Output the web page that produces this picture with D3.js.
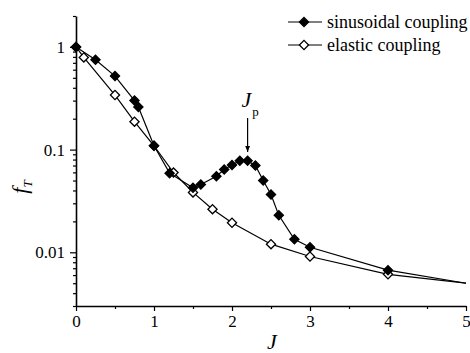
<!DOCTYPE html>
<html>
<head>
<meta charset="utf-8">
<script src="https://cdn.jsdelivr.net/npm/d3@7"></script>
<style>
  html, body { margin: 0; padding: 0; background: #fff; }
  svg { display: block; }
</style>
</head>
<body>
<svg id="chart" width="470" height="353"></svg>
<script>
// ---- data ----
const sinusoidalJ = [0, 0.25, 0.5, 0.75, 0.8, 1.0, 1.2, 1.5, 1.6, 1.8, 1.9, 2.0, 2.1, 2.2, 2.3, 2.4, 2.5, 2.6, 2.8, 3.0, 4.0, 5.0];
const sinusoidalF = [1.0, 0.75, 0.52, 0.30, 0.26, 0.109, 0.059, 0.0425, 0.0457, 0.055, 0.064, 0.071, 0.0777, 0.0777, 0.070, 0.050, 0.0366, 0.0229, 0.0134, 0.0112, 0.0067, 0.0050];
const elasticJ = [0, 0.1, 0.5, 0.75, 1.0, 1.25, 1.5, 1.75, 2.0, 2.5, 3.0, 4.0, 5.0];
const elasticF = [1.0, 0.79, 0.34, 0.187, 0.109, 0.0598, 0.0383, 0.0263, 0.0194, 0.0120, 0.0091, 0.0061, 0.0050];
const xTicks = [0, 1, 2, 3, 4, 5];
const xMinorTicks = [0.5, 1.5, 2.5, 3.5, 4.5];
const yTicks = [0.01, 0.1, 1];
const yTickLabels = ["0.01", "0.1", "1"];
const seriesNames = ["sinusoidal coupling", "elastic coupling"];
const peakLabel = { main: "J", sub: "p", at: 2.2 };

const SERIF = "Liberation Serif";

const svg = d3.select("#chart");
const x = d3.scaleLinear().domain([0, 5]).range([76, 466]);
const y = d3.scaleLog().domain([0.003, 2]).range([306, 16]);

// minor log ticks (2..9 of each decade)
const yMinor = [];
for (let e = -3; e <= 0; e++) {
  for (let m = 2; m <= 9; m++) {
    const v = m * Math.pow(10, e);
    if (v >= 0.003 && v <= 2) yMinor.push(v);
  }
}

// ---- axes ----
const gx = svg.append("g").attr("transform", `translate(0,${y.range()[0]})`);
gx.call(d3.axisBottom(x).tickValues(xMinorTicks).tickSize(3).tickSizeOuter(0).tickFormat(""));
gx.call(g => g.select(".domain").remove());
const gx2 = svg.append("g").attr("transform", `translate(0,${y.range()[0]})`);
gx2.call(d3.axisBottom(x).tickValues(xTicks).tickSize(5).tickSizeOuter(0).tickPadding(4).tickFormat(d3.format("d")));

const gy = svg.append("g").attr("transform", `translate(${x.range()[0]},0)`);
gy.call(d3.axisLeft(y).tickValues(yMinor).tickSize(3).tickSizeOuter(0).tickFormat(""));
gy.call(g => g.select(".domain").remove());
const gy2 = svg.append("g").attr("transform", `translate(${x.range()[0]},0)`);
gy2.call(d3.axisLeft(y).tickValues(yTicks).tickSize(6).tickSizeOuter(0).tickPadding(5)
  .tickFormat((d, i) => yTickLabels[i]));

svg.selectAll(".tick text").attr("fill", "#000")
  .style("font-family", SERIF).style("font-size", "17px");
svg.selectAll(".domain").attr("stroke", "#000").attr("stroke-width", 1.6);
svg.selectAll(".tick line").attr("stroke", "#000").attr("stroke-width", 1.2);

// ---- series ----
const line = d3.line().x(d => x(d[0])).y(d => y(d[1]));

function drawSeries(J, F, filled) {
  const pts = J.map((j, i) => [j, F[i]]);
  svg.append("path").datum(pts).attr("d", line)
    .attr("fill", "none").attr("stroke", "#000").attr("stroke-width", 1.2);
  svg.append("g").selectAll("path").data(pts.filter(p => p[0] < 5)).join("path")
    .attr("d", d3.symbol().type(d3.symbolSquare).size(42))
    .attr("transform", d => `translate(${x(d[0])},${y(d[1])}) rotate(45)`)
    .attr("fill", filled ? "#000" : "#fff")
    .attr("stroke", "#000").attr("stroke-width", 1.3);
}
drawSeries(elasticJ, elasticF, false);
drawSeries(sinusoidalJ, sinusoidalF, true);

// ---- legend ----
const legend = svg.append("g");
seriesNames.forEach((name, i) => {
  const ly = 22 + i * 23;
  legend.append("line").attr("x1", 288).attr("x2", 322).attr("y1", ly).attr("y2", ly)
    .attr("stroke", "#000").attr("stroke-width", 1.2);
  legend.append("path").attr("d", d3.symbol().type(d3.symbolSquare).size(42))
    .attr("transform", `translate(304,${ly}) rotate(45)`)
    .attr("fill", i === 0 ? "#000" : "#fff").attr("stroke", "#000").attr("stroke-width", 1.3);
  legend.append("text").attr("x", 327).attr("y", ly + 5.5)
    .style("font-family", SERIF).style("font-size", "18px").attr("fill", "#000").text(name);
});

// ---- annotation J_p ----
const ax = x(peakLabel.at);
const t = svg.append("text").attr("x", ax - 6).attr("y", 107)
  .style("font-family", SERIF).style("font-size", "22px");
t.append("tspan").style("font-style", "italic").text(peakLabel.main);
t.append("tspan").attr("dx", 1).attr("dy", 9).style("font-size", "13px").text(peakLabel.sub);
svg.append("defs").append("marker").attr("id", "ah").attr("viewBox", "0 0 10 10")
  .attr("refX", 10).attr("refY", 5).attr("markerWidth", 6).attr("markerHeight", 6)
  .attr("orient", "auto").attr("markerUnits", "userSpaceOnUse")
  .append("path").attr("d", "M0,1 L10,5 L0,9 Z").attr("fill", "#000");
svg.append("line").attr("x1", ax).attr("x2", ax).attr("y1", 118).attr("y2", 152)
  .attr("stroke", "#000").attr("stroke-width", 1.2).attr("marker-end", "url(#ah)");

// ---- axis titles ----
svg.append("text").attr("x", 272).attr("y", 349).attr("text-anchor", "middle")
  .style("font-family", SERIF).style("font-size", "22px").style("font-style", "italic").text("J");
const yt = svg.append("text").attr("transform", "translate(27,187) rotate(-90)")
  .attr("text-anchor", "middle").style("font-family", SERIF).style("font-size", "22px");
yt.append("tspan").style("font-style", "italic").text("f");
yt.append("tspan").attr("dy", 5).style("font-size", "13px").style("font-style", "italic").text("T");
</script>
</body>
</html>
